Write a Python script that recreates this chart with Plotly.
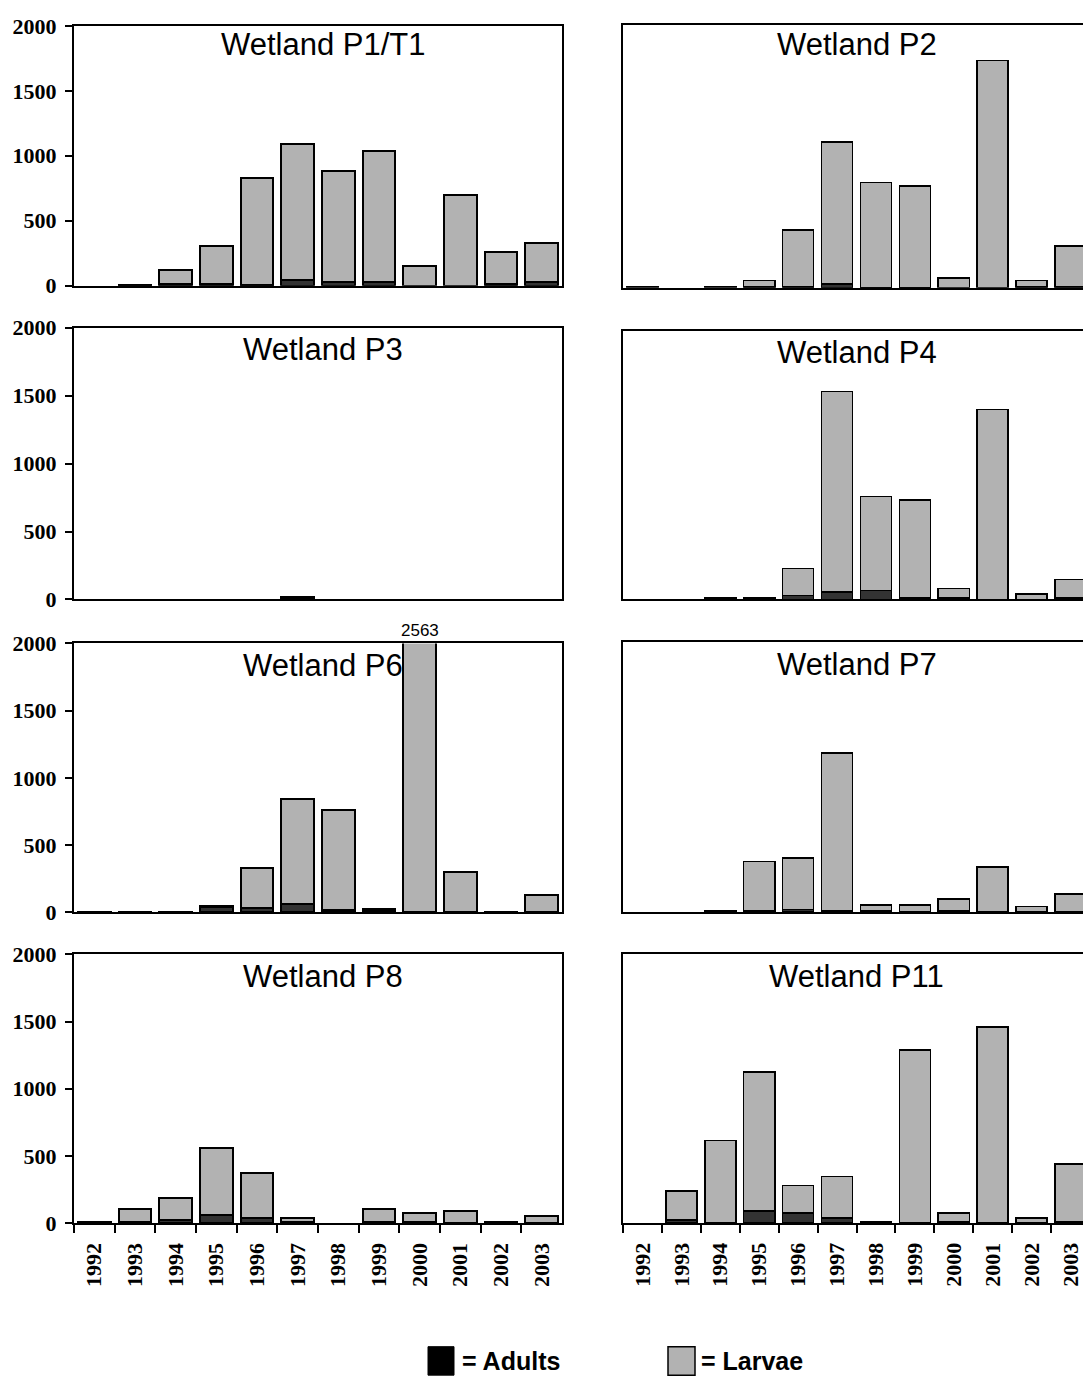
import plotly.graph_objects as go
from plotly.subplots import make_subplots

# ---------------- data ----------------
years = ["1992", "1993", "1994", "1995", "1996", "1997",
         "1998", "1999", "2000", "2001", "2002", "2003"]

panel_titles = ["Wetland P1/T1", "Wetland P2", "Wetland P3", "Wetland P4",
                "Wetland P6", "Wetland P7", "Wetland P8", "Wetland P11"]

p1_adults = [0, 3, 10, 15, 5, 40, 30, 25, 0, 0, 10, 30]
p1_larvae = [0, 5, 111, 287, 822, 1054, 856, 1012, 153, 700, 247, 302]

p2_adults = [0, 0, 0, 10, 10, 30, 3, 3, 0, 0, 10, 10]
p2_larvae = [4, 0, 4, 44, 427, 1077, 797, 770, 74, 1730, 46, 307]

p3_adults = [0, 0, 0, 0, 0, 12, 0, 0, 0, 0, 0, 0]
p3_larvae = [0, 0, 0, 0, 0, 3, 0, 0, 0, 0, 0, 0]

p4_adults = [0, 0, 10, 10, 30, 54, 67, 10, 10, 0, 0, 12]
p4_larvae = [0, 0, 0, 0, 200, 1493, 698, 730, 72, 1413, 40, 137]

p6_adults = [3, 0, 3, 40, 30, 60, 20, 20, 5, 5, 2, 5]
p6_larvae = [2, 1, 2, 5, 298, 780, 743, 5, 2558, 293, 1, 127]

p7_adults = [0, 0, 5, 8, 20, 8, 8, 3, 10, 0, 0, 0]
p7_larvae = [0, 0, 3, 368, 383, 1173, 44, 49, 87, 337, 42, 134]

p8_adults = [5, 10, 25, 64, 40, 10, 0, 8, 8, 0, 5, 0]
p8_larvae = [5, 94, 163, 498, 334, 30, 0, 96, 71, 89, 5, 52]

p11_adults = [0, 22, 5, 92, 77, 37, 5, 5, 8, 0, 0, 8]
p11_larvae = [0, 216, 611, 1034, 203, 310, 5, 1282, 69, 1460, 37, 433]

p6_peak_year = "2000"
p6_peak_label = "2563"

y_ticks = [0, 500, 1000, 1500, 2000]

# ---------------- figure ----------------
W, H = 1091, 1390
adults_all = [p1_adults, p2_adults, p3_adults, p4_adults,
              p6_adults, p7_adults, p8_adults, p11_adults]
larvae_all = [p1_larvae, p2_larvae, p3_larvae, p4_larvae,
              p6_larvae, p7_larvae, p8_larvae, p11_larvae]


def nz(vals):
    return [v if v else None for v in vals]


fig = make_subplots(rows=4, cols=2)

# panel boxes in figure pixel coordinates
left_x = (66, 554)
right_x = (615, 1082)
rows_left = [(6, 270.5), (313.3, 590.1), (634.9, 908.6), (951.4, 1225.2)]
rows_right = [(5, 272.6), (316.3, 590.1), (633.9, 908.6), (951.4, 1225.2)]
title_shift = [-19, -20, -22, -22, -22, -22, -22, -22]

ADULT = "#333333"
LARVA = "#b2b2b2"
serif = "Liberation Serif, Times New Roman, serif"
sans = "Liberation Sans, Arial, sans-serif"

for i in range(8):
    r = i // 2 + 1
    c = i % 2 + 1
    lw = 2 if c == 1 else 1.6
    fig.add_trace(go.Bar(x=years, y=nz(adults_all[i]), name="Adults",
                         marker=dict(color=ADULT, line=dict(color="black", width=lw)),
                         showlegend=False), row=r, col=c)
    fig.add_trace(go.Bar(x=years, y=nz(larvae_all[i]), name="Larvae",
                         marker=dict(color=LARVA, line=dict(color="black", width=lw)),
                         showlegend=False), row=r, col=c)

    k = i + 1
    xs = "" if k == 1 else str(k)
    xl, xr = left_x if c == 1 else right_x
    yt, yb = (rows_left if c == 1 else rows_right)[r - 1]
    bottom = (r == 4)
    frame_w = 2 if c == 1 else 1.6

    fig.layout["xaxis" + xs].update(
        domain=[xl / W, min(xr / W, 1.0)], type="category", range=[-0.5, 11.5],
        showline=True, mirror=True, linecolor="black", linewidth=frame_w,
        showgrid=False, zeroline=False,
        ticks="outside" if bottom else "", tickson="boundaries",
        ticklen=8, tickwidth=2, tickcolor="black",
        showticklabels=bottom, tickangle=-90, ticklabelstandoff=9,
        tickfont=dict(family=serif, size=22, color="black", weight="bold"),
    )
    fig.layout["yaxis" + xs].update(
        domain=[1 - yb / H, 1 - yt / H], range=[0, 2000],
        showline=True, mirror=True, linecolor="black", linewidth=frame_w,
        showgrid=False, zeroline=False,
        tickvals=y_ticks, ticks="outside" if c == 1 else "",
        ticklen=7, tickwidth=2, tickcolor="black",
        showticklabels=(c == 1), ticklabelstandoff=4,
        tickfont=dict(family=serif, size=22, color="black", weight="bold"),
    )
    fig.add_annotation(text=panel_titles[i], xref="x" + xs + " domain",
                       yref="y" + xs + " domain", x=0.51 if c == 1 else 0.5, y=1,
                       yanchor="middle", yshift=title_shift[i], showarrow=False,
                       font=dict(family=sans, size=31, color="black"))

# value label of the clipped bar in Wetland P6
fig.add_annotation(text=p6_peak_label, xref="x5", yref="y5 domain",
                   x=years.index(p6_peak_year), y=1, yanchor="bottom", yshift=1,
                   showarrow=False,
                   font=dict(family=sans, size=17, color="black"))

# legend key at bottom
fig.add_shape(type="rect", xref="paper", yref="paper",
              x0=420 / W, x1=446 / W, y0=1 - 1380 / H, y1=1 - 1351 / H,
              fillcolor="black", line=dict(color="black", width=1))
fig.add_shape(type="rect", xref="paper", yref="paper",
              x0=660 / W, x1=687 / W, y0=1 - 1380 / H, y1=1 - 1351 / H,
              fillcolor=LARVA, line=dict(color="black", width=1.5))
fig.add_annotation(text="= Adults", xref="paper", yref="paper",
                   x=452 / W, y=1 - 1366 / H, xanchor="left", yanchor="middle",
                   showarrow=False,
                   font=dict(family=sans, size=25, color="black", weight="bold"))
fig.add_annotation(text="= Larvae", xref="paper", yref="paper",
                   x=691 / W, y=1 - 1366 / H, xanchor="left", yanchor="middle",
                   showarrow=False,
                   font=dict(family=sans, size=25, color="black", weight="bold"))

fig.update_layout(
    width=W, height=H, margin=dict(l=0, r=0, t=0, b=0),
    barmode="stack", bargap=0.2,
    paper_bgcolor="white", plot_bgcolor="white",
    showlegend=False,
)

fig.write_html("out.html")
